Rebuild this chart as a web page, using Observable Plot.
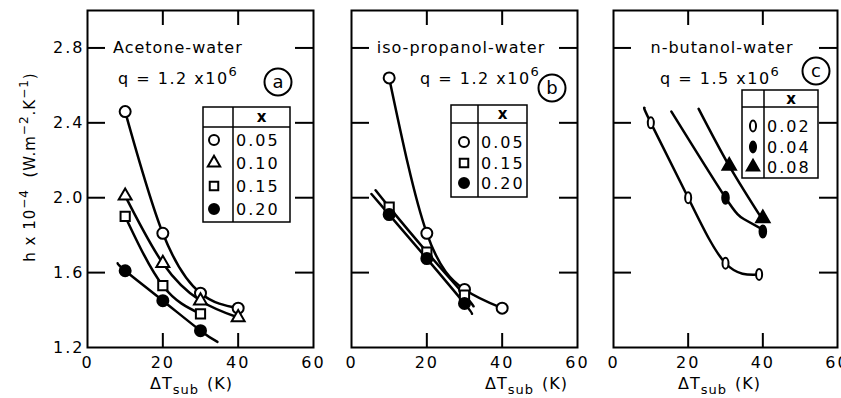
<!DOCTYPE html>
<html><head><meta charset="utf-8">
<script src="https://cdn.jsdelivr.net/npm/d3@7"></script>
<script src="https://cdn.jsdelivr.net/npm/@observablehq/plot@0.6"></script>
<style>
body{margin:0;background:#fff}
#wrap{position:relative;width:841px;height:398px;overflow:hidden;background:#fff}
#wrap svg{position:absolute;top:0}
</style>
</head><body><div id="wrap"></div>
<script>
// ---------- shared axis values ----------
const xTicks = [0, 20, 40, 60];
const yTicks = [1.2, 1.6, 2.0, 2.4, 2.8];
const innerTicksY = [1.6, 2.0, 2.4, 2.8];
const innerTicksX = [20, 40];
const xDomain = [0, 60];
const yDomain = [1.2, 3.0];

// ---------- panel (a) Acetone-water ----------
const aLabels = ["0.05", "0.10", "0.15", "0.20"];
const a005X = [10, 20, 30, 40], a005Y = [2.46, 1.81, 1.49, 1.41];
const a010X = [10, 20, 30, 40], a010Y = [2.01, 1.65, 1.45, 1.36];
const a015X = [10, 20, 30],     a015Y = [1.90, 1.53, 1.38];
const a020X = [10, 20, 30],     a020Y = [1.61, 1.45, 1.29];
// drawn curves (read where the lines run past the markers)
const a020LineX = [8, 10, 20, 30, 34.5], a020LineY = [1.65, 1.61, 1.45, 1.29, 1.23];

// ---------- panel (b) iso-propanol-water ----------
const bLabels = ["0.05", "0.15", "0.20"];
const b005X = [10, 20, 30, 40], b005Y = [2.64, 1.81, 1.51, 1.41];
const b015X = [10, 20, 30],     b015Y = [1.95, 1.71, 1.48];
const b020X = [10, 20, 30],     b020Y = [1.91, 1.675, 1.435];
const b015LineX = [6.4, 10, 20, 30, 32.4], b015LineY = [2.04, 1.95, 1.71, 1.48, 1.42];
const b020LineX = [5.3, 10, 20, 30, 32],   b020LineY = [2.02, 1.91, 1.675, 1.435, 1.38];

// ---------- panel (c) n-butanol-water ----------
const cLabels = ["0.02", "0.04", "0.08"];
const c002X = [10, 20, 30, 39], c002Y = [2.40, 2.00, 1.65, 1.59];
const c004X = [30, 40],         c004Y = [2.00, 1.82];
const c008X = [31, 40],         c008Y = [2.17, 1.89];
const c002LineX = [8.3, 10, 20, 30, 39],  c002LineY = [2.48, 2.40, 2.00, 1.65, 1.59];
const c004LineX = [15.5, 30, 35, 40],     c004LineY = [2.46, 2.00, 1.885, 1.83];
const c008LineX = [22.8, 31, 40],         c008LineY = [2.475, 2.17, 1.88];

// ---------- symbols ----------
const ellipse = {draw(ctx, size) {
  const r = Math.sqrt(size / Math.PI), rx = r * 0.55, ry = r, k = 0.5523;
  ctx.moveTo(rx, 0);
  ctx.bezierCurveTo(rx, ry * k, rx * k, ry, 0, ry);
  ctx.bezierCurveTo(-rx * k, ry, -rx, ry * k, -rx, 0);
  ctx.bezierCurveTo(-rx, -ry * k, -rx * k, -ry, 0, -ry);
  ctx.bezierCurveTo(rx * k, -ry, rx, -ry * k, rx, 0);
  ctx.closePath();
}};
const symCircle = "circle", symTri = "triangle", symSq = "square";

const FONT = "'DejaVu Sans', sans-serif";
const H = 398, MT = 10, MB = 51;

const panels = [
  {left: 0, width: 332, mL: 87, mR: 19, yLabels: true,
   series: [
     {x: a005X, y: a005Y, lx: a005X, ly: a005Y, symbol: symCircle, fill: "white", r: 5.5},
     {x: a010X, y: a010Y, lx: a010X, ly: a010Y, symbol: symTri, fill: "white", r: 4.8},
     {x: a015X, y: a015Y, lx: a015X, ly: a015Y, symbol: symSq, fill: "white", r: 5.2},
     {x: a020X, y: a020Y, lx: a020LineX, ly: a020LineY, symbol: symCircle, fill: "black", r: 5.5}
   ],
   legend: {x0: 203, xd: 233, x1: 290, y0: 107, yh: 127, y1: 222, symX: 214,
     rows: [[symCircle, "white", aLabels[0], 140], [symTri, "white", aLabels[1], 163],
            [symSq, "white", aLabels[2], 186], [symCircle, "black", aLabels[3], 209]]},
   title: ["Acetone-water", 113, 53, "start"], q: ["q = 1.2 x10", "6", 118, 84],
   circ: ["a", 278, 82], xlab: 150},
  {left: 332, width: 263, mL: 19, mR: 18, yLabels: false,
   series: [
     {x: b005X, y: b005Y, lx: b005X, ly: b005Y, symbol: symCircle, fill: "white", r: 5.5},
     {x: b015X, y: b015Y, lx: b015LineX, ly: b015LineY, symbol: symSq, fill: "white", r: 5.2},
     {x: b020X, y: b020Y, lx: b020LineX, ly: b020LineY, symbol: symCircle, fill: "black", r: 5.5}
   ],
   legend: {x0: 451, xd: 478, x1: 527, y0: 105, yh: 123, y1: 197, symX: 464,
     rows: [[symCircle, "white", bLabels[0], 142], [symSq, "white", bLabels[1], 163],
            [symCircle, "black", bLabels[2], 183]]},
   title: ["iso-propanol-water", 461, 53, "middle"], q: ["q = 1.2 x10", "6", 420, 84],
   circ: ["b", 552, 88], xlab: 485},
  {left: 595, width: 246, mL: 18, mR: 4, yLabels: false,
   series: [
     {x: c002X, y: c002Y, lx: c002LineX, ly: c002LineY, symbol: ellipse, fill: "white", r: 5.5},
     {x: c004X, y: c004Y, lx: c004LineX, ly: c004LineY, symbol: ellipse, fill: "black", r: 6},
     {x: c008X, y: c008Y, lx: c008LineX, ly: c008LineY, symbol: symTri, fill: "black", r: 5}
   ],
   legend: {x0: 742, xd: 764, x1: 818, y0: 90, yh: 107, y1: 178, symX: 753,
     rows: [[ellipse, "white", cLabels[0], 126], [ellipse, "black", cLabels[1], 147],
            [symTri, "black", cLabels[2], 167]]},
   title: ["n-butanol-water", 722, 53, "middle"], q: ["q = 1.5 x10", "6", 660, 84],
   circ: ["c", 816, 71], xlab: 678}
];

const wrap = d3.select("#wrap");

function symPath(sym, r) {
  const t = typeof sym === "string" ? {circle: d3.symbolCircle, triangle: d3.symbolTriangle, square: d3.symbolSquare}[sym] : sym;
  return d3.symbol(t, r * r * Math.PI)();
}

for (const p of panels) {
  const fw = p.width - p.mL - p.mR, fh = H - MT - MB;
  const marks = [
    Plot.ruleY(innerTicksY, {insetRight: fw - 18, strokeWidth: 2}),
    Plot.ruleY(innerTicksY, {insetLeft: fw - 18, strokeWidth: 2}),
    Plot.ruleX(innerTicksX, {insetBottom: fh - 15, strokeWidth: 2}),
    Plot.ruleX(innerTicksX, {insetTop: fh - 14, strokeWidth: 2}),
    Plot.axisX({ticks: xTicks, anchor: "bottom", tickSize: 0, tickPadding: 9, tickFormat: d => String(d), label: null, fontSize: 16}),
    Plot.frame({stroke: "black", strokeWidth: 2})
  ];
  if (p.yLabels) marks.push(Plot.axisY({ticks: yTicks, anchor: "left", tickSize: 0, tickPadding: 3, tickFormat: d => d.toFixed(1), label: null, fontSize: 16}));
  for (const s of p.series) {
    marks.push(Plot.line(s.lx.map((x, i) => ({x, y: s.ly[i]})), {x: "x", y: "y", curve: "natural", stroke: "black", strokeWidth: 2.5}));
  }
  for (const s of p.series) {
    marks.push(Plot.dot(s.x.map((x, i) => ({x, y: s.y[i]})), {x: "x", y: "y", symbol: s.symbol, r: s.r, fill: s.fill, stroke: "black", strokeWidth: 2}));
  }
  const svgEl = Plot.plot({
    width: p.width, height: H, marginLeft: p.mL, marginRight: p.mR, marginTop: MT, marginBottom: MB,
    x: {domain: xDomain}, y: p.yLabels ? {domain: yDomain} : {domain: yDomain, axis: null},
    style: {fontFamily: FONT, fontSize: "16px", letterSpacing: "2px", background: "transparent", color: "black", overflow: "visible"},
    marks
  });
  svgEl.style.left = p.left + "px";
  wrap.node().appendChild(svgEl);
  const svg = d3.select(svgEl);
  const g = svg.append("g").attr("transform", `translate(${-p.left},0)`)
    .attr("font-family", FONT).attr("fill", "black").attr("text-anchor", "start");

  // title
  g.append("text").attr("x", p.title[1]).attr("y", p.title[2]).attr("text-anchor", p.title[3])
    .attr("font-size", 16).attr("letter-spacing", 1).text(p.title[0]);
  // q line
  const qt = g.append("text").attr("x", p.q[2]).attr("y", p.q[3]).attr("text-anchor", "start")
    .attr("font-size", 16).attr("letter-spacing", 1.5);
  qt.append("tspan").text(p.q[0]);
  qt.append("tspan").attr("dy", -8).attr("font-size", 13).text(p.q[1]);
  // circled letter
  g.append("circle").attr("cx", p.circ[1]).attr("cy", p.circ[2]).attr("r", 13.5)
    .attr("fill", "white").attr("stroke", "black").attr("stroke-width", 2);
  g.append("text").attr("x", p.circ[1]).attr("y", p.circ[2] + 6).attr("text-anchor", "middle")
    .attr("font-size", 18).attr("letter-spacing", 0).text(p.circ[0]);

  // legend table
  const L = p.legend;
  g.append("rect").attr("x", L.x0).attr("y", L.y0).attr("width", L.x1 - L.x0).attr("height", L.y1 - L.y0)
    .attr("fill", "white").attr("stroke", "black").attr("stroke-width", 1.5);
  g.append("line").attr("x1", L.xd).attr("x2", L.xd).attr("y1", L.y0).attr("y2", L.y1).attr("stroke", "black").attr("stroke-width", 1.5);
  g.append("line").attr("x1", L.x0).attr("x2", L.x1).attr("y1", L.yh).attr("y2", L.yh).attr("stroke", "black").attr("stroke-width", 1.5);
  g.append("text").attr("x", (L.xd + L.x1) / 2).attr("y", (L.y0 + L.yh) / 2 + 5).attr("text-anchor", "middle")
    .attr("font-size", 15).attr("font-weight", "bold").attr("letter-spacing", 0).text("x");
  for (const [sym, fill, lab, y] of L.rows) {
    const rr = sym === ellipse ? 5.5 : (sym === "triangle" ? 4.6 : (sym === "square" ? 4.8 : 5));
    g.append("path").attr("d", symPath(sym, rr)).attr("transform", `translate(${L.symX},${y})`)
      .attr("fill", fill).attr("stroke", "black").attr("stroke-width", 2);
    g.append("text").attr("x", L.xd + 3).attr("y", y + 6).attr("text-anchor", "start")
      .attr("font-size", 16).attr("letter-spacing", 2).text(lab);
  }

  // x-axis label
  const xl = g.append("text").attr("x", p.xlab).attr("y", 389).attr("text-anchor", "start")
    .attr("font-size", 16).attr("letter-spacing", 1);
  xl.append("tspan").text("ΔT");
  xl.append("tspan").attr("dy", 5).attr("font-size", 13).text("sub");
  xl.append("tspan").attr("dy", -5).attr("dx", 8).text("(K)");

  if (p.yLabels) {
    const yl = g.append("text").attr("transform", "translate(35,167) rotate(-90)").attr("text-anchor", "middle")
      .attr("font-size", 15).attr("letter-spacing", 1);
    yl.append("tspan").text("h x 10");
    yl.append("tspan").attr("dy", -7).attr("font-size", 12).text("−4");
    yl.append("tspan").attr("dy", 7).text("  (W.m");
    yl.append("tspan").attr("dy", -7).attr("font-size", 12).text("−2");
    yl.append("tspan").attr("dy", 7).text(".K");
    yl.append("tspan").attr("dy", -7).attr("font-size", 12).text("−1");
    yl.append("tspan").attr("dy", 7).text(")");
  }
}
</script>
</body></html>
